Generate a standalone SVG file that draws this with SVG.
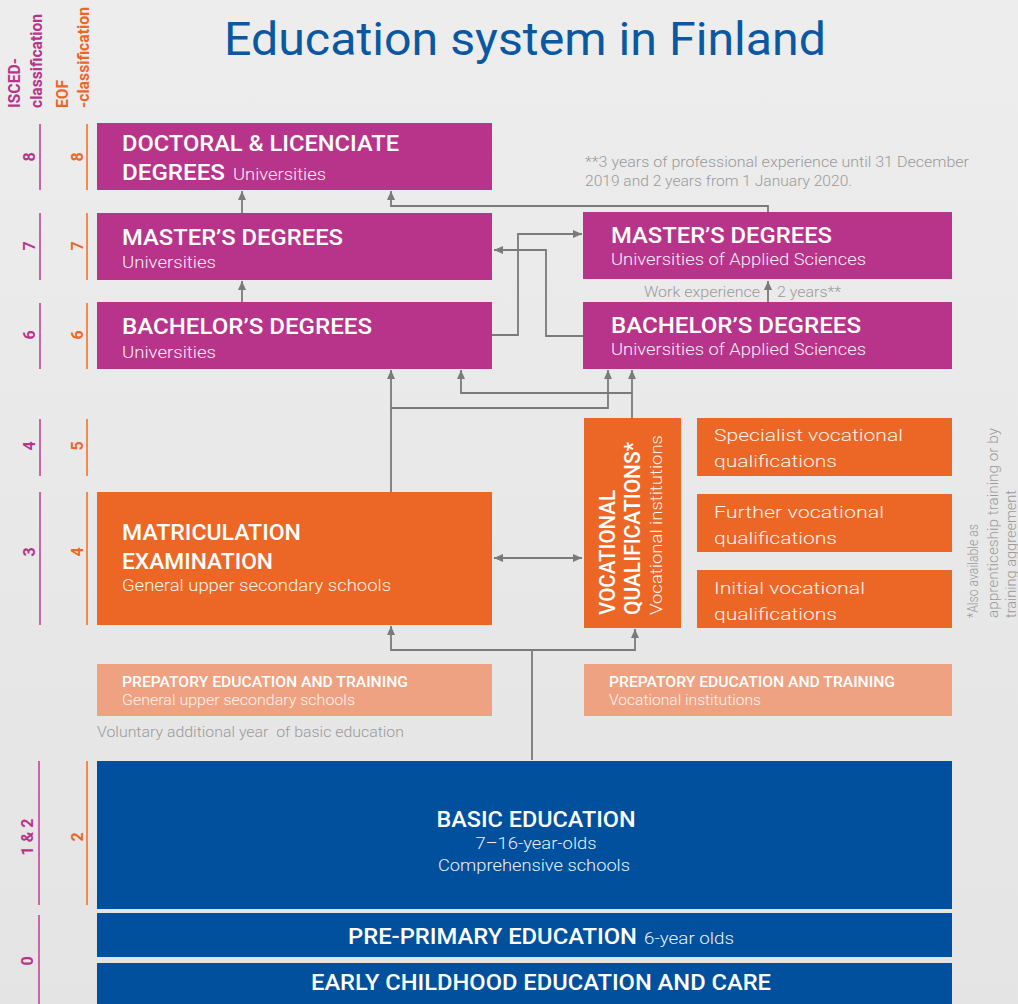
<svg xmlns="http://www.w3.org/2000/svg" width="1018" height="1004" viewBox="0 0 1018 1004">
<defs>
<linearGradient id="bg" x1="0" y1="0" x2="0" y2="1">
<stop offset="0" stop-color="#ededed"/>
<stop offset="1" stop-color="#e4e4e4"/>
</linearGradient>
<marker id="ah" markerUnits="userSpaceOnUse" markerWidth="10" markerHeight="10" refX="9" refY="4.5" orient="auto">
<path d="M0,0.5 L9,4.5 L0,8.5 Z" fill="#7a7a7a"/>
</marker>
<marker id="ahs" markerUnits="userSpaceOnUse" markerWidth="10" markerHeight="10" refX="0" refY="4.5" orient="auto">
<path d="M9,0.5 L0,4.5 L9,8.5 Z" fill="#7a7a7a"/>
</marker>
</defs>
<style>
text{font-family:Roboto,"Liberation Sans",sans-serif;}
.mag{fill:#b8348a;}
.ora{fill:#ec6726;}
.sal{fill:#eea282;}
.blu{fill:#00509d;}
.h{fill:#fff;font-weight:500;font-size:22px;}
.s{fill:#fff;font-weight:300;font-size:17px;opacity:0.92;}
.ps{fill:#fff;font-weight:500;font-size:14.5px;}
.pl{fill:#fff;font-weight:300;font-size:14.5px;opacity:0.9;}
.note{fill:#9a9a9a;font-weight:300;font-size:15px;}
.iscl{stroke:#c966aa;stroke-width:2;}
.eqfl{stroke:#f08b50;stroke-width:2;}
.iscn{fill:#b8348a;font-weight:700;font-size:16px;}
.eqfn{fill:#ec6726;font-weight:700;font-size:16px;}
.conn path{fill:none;stroke:#7a7a7a;stroke-width:1.8;}
</style>
<rect x="0" y="0" width="1018" height="1004" fill="url(#bg)"/>

<text x="525" y="55" text-anchor="middle" font-size="46" font-weight="400" fill="#0a57a2" textLength="602" lengthAdjust="spacingAndGlyphs">Education system in Finland</text>

<g id="scale-headers">
<text transform="translate(20,108) rotate(-90)" class="iscn" font-size="13.5" textLength="50" lengthAdjust="spacingAndGlyphs">ISCED-</text>
<text transform="translate(42,108) rotate(-90)" class="iscn" font-size="13.5" textLength="94" lengthAdjust="spacingAndGlyphs">classification</text>
<text transform="translate(68,108) rotate(-90)" class="eqfn" font-size="13.5" textLength="28" lengthAdjust="spacingAndGlyphs">EOF</text>
<text transform="translate(89,108) rotate(-90)" class="eqfn" font-size="13.5" textLength="101" lengthAdjust="spacingAndGlyphs">-classification</text>
</g>

<g id="levels">
<line class="iscl" x1="40" y1="124" x2="40" y2="190"/><line class="eqfl" x1="87" y1="124" x2="87" y2="190"/>
<text transform="translate(35,157) rotate(-90)" class="iscn" text-anchor="middle">8</text>
<text transform="translate(83,157) rotate(-90)" class="eqfn" text-anchor="middle">8</text>
<line class="iscl" x1="40" y1="213" x2="40" y2="280"/><line class="eqfl" x1="87" y1="213" x2="87" y2="280"/>
<text transform="translate(35,246) rotate(-90)" class="iscn" text-anchor="middle">7</text>
<text transform="translate(83,246) rotate(-90)" class="eqfn" text-anchor="middle">7</text>
<line class="iscl" x1="40" y1="303" x2="40" y2="369"/><line class="eqfl" x1="87" y1="303" x2="87" y2="369"/>
<text transform="translate(35,335) rotate(-90)" class="iscn" text-anchor="middle">6</text>
<text transform="translate(83,335) rotate(-90)" class="eqfn" text-anchor="middle">6</text>
<line class="iscl" x1="40" y1="419" x2="40" y2="476"/><line class="eqfl" x1="87" y1="419" x2="87" y2="476"/>
<text transform="translate(35,446) rotate(-90)" class="iscn" text-anchor="middle">4</text>
<text transform="translate(83,446) rotate(-90)" class="eqfn" text-anchor="middle">5</text>
<line class="iscl" x1="40" y1="492" x2="40" y2="625"/><line class="eqfl" x1="87" y1="492" x2="87" y2="625"/>
<text transform="translate(35,552) rotate(-90)" class="iscn" text-anchor="middle">3</text>
<text transform="translate(83,552) rotate(-90)" class="eqfn" text-anchor="middle">4</text>
<line class="iscl" x1="39" y1="761" x2="39" y2="905"/><line class="eqfl" x1="87" y1="761" x2="87" y2="905"/>
<text transform="translate(33,837) rotate(-90)" class="iscn" text-anchor="middle">1 &amp; 2</text>
<text transform="translate(83,837) rotate(-90)" class="eqfn" text-anchor="middle">2</text>
<line class="iscl" x1="39" y1="915" x2="39" y2="1004"/>
<text transform="translate(33,961) rotate(-90)" class="iscn" text-anchor="middle">0</text>
</g>

<g id="conn" class="conn">
<path d="M242,213 V191" marker-end="url(#ah)"/>
<path d="M242,302 V281" marker-end="url(#ah)"/>
<path d="M768,212 V206 H391 V191" marker-end="url(#ah)"/>
<path d="M768,302 V281" marker-end="url(#ah)"/>
<path d="M492,335 H518 V234 H582" marker-end="url(#ah)"/>
<path d="M583,336 H546 V250 H494" marker-end="url(#ah)"/>
<path d="M391,492 V370" marker-end="url(#ah)"/>
<path d="M391,408 H608 V370" marker-end="url(#ah)"/>
<path d="M632,418 V370" marker-end="url(#ah)"/>
<path d="M632,393 H461 V370" marker-end="url(#ah)"/>
<path d="M494,558 H582" marker-start="url(#ahs)" marker-end="url(#ah)"/>
<path d="M532,760 V650 H391 V626" marker-end="url(#ah)"/>
<path d="M532,650 H635 V629" marker-end="url(#ah)"/>
</g>

<text class="note" x="585" y="167" textLength="384" lengthAdjust="spacingAndGlyphs">**3 years of professional experience until 31 December</text>
<text class="note" x="585" y="186" textLength="267" lengthAdjust="spacingAndGlyphs">2019 and 2 years from 1 January 2020.</text>
<text class="note" x="760" y="297" text-anchor="end" textLength="116" lengthAdjust="spacingAndGlyphs">Work experience</text>
<text class="note" x="777" y="297" textLength="64" lengthAdjust="spacingAndGlyphs">2 years**</text>

<g id="doctoral">
<rect class="mag" x="97" y="123" width="395" height="67"/>
<text class="h" x="122" y="151" textLength="277" lengthAdjust="spacingAndGlyphs">DOCTORAL &amp; LICENCIATE</text>
<text class="h" x="122" y="180" textLength="103" lengthAdjust="spacingAndGlyphs">DEGREES</text>
<text class="s" x="233" y="180" textLength="93" lengthAdjust="spacingAndGlyphs">Universities</text>
</g>
<g id="master-univ">
<rect class="mag" x="97" y="213" width="395" height="67"/>
<text class="h" x="122" y="245" textLength="221" lengthAdjust="spacingAndGlyphs">MASTER’S DEGREES</text>
<text class="s" x="122" y="268" textLength="94" lengthAdjust="spacingAndGlyphs">Universities</text>
</g>
<g id="bachelor-univ">
<rect class="mag" x="97" y="302" width="395" height="67"/>
<text class="h" x="122" y="334" textLength="250" lengthAdjust="spacingAndGlyphs">BACHELOR’S DEGREES</text>
<text class="s" x="122" y="358" textLength="94" lengthAdjust="spacingAndGlyphs">Universities</text>
</g>
<g id="master-uas">
<rect class="mag" x="583" y="212" width="369" height="67"/>
<text class="h" x="611" y="243" textLength="221" lengthAdjust="spacingAndGlyphs">MASTER’S DEGREES</text>
<text class="s" x="611" y="265" textLength="255" lengthAdjust="spacingAndGlyphs">Universities of Applied Sciences</text>
</g>
<g id="bachelor-uas">
<rect class="mag" x="583" y="302" width="369" height="67"/>
<text class="h" x="611" y="333" textLength="250" lengthAdjust="spacingAndGlyphs">BACHELOR’S DEGREES</text>
<text class="s" x="611" y="355" textLength="255" lengthAdjust="spacingAndGlyphs">Universities of Applied Sciences</text>
</g>

<g id="matriculation">
<rect class="ora" x="97" y="492" width="395" height="133"/>
<text class="h" x="122" y="540" textLength="179" lengthAdjust="spacingAndGlyphs">MATRICULATION</text>
<text class="h" x="122" y="569" textLength="151" lengthAdjust="spacingAndGlyphs">EXAMINATION</text>
<text class="s" x="122" y="591" textLength="269" lengthAdjust="spacingAndGlyphs">General upper secondary schools</text>
</g>
<g id="vocational">
<rect class="ora" x="584" y="418" width="97" height="210"/>
<text class="h" transform="translate(615,615) rotate(-90)" textLength="125" lengthAdjust="spacingAndGlyphs">VOCATIONAL</text>
<text class="h" transform="translate(640,615) rotate(-90)" textLength="173" lengthAdjust="spacingAndGlyphs">QUALIFICATIONS*</text>
<text class="s" transform="translate(662,615) rotate(-90)" textLength="180" lengthAdjust="spacingAndGlyphs">Vocational institutions</text>
</g>
<g id="specialist">
<rect class="ora" x="697" y="418" width="255" height="58"/>
<text class="s" font-size="20" x="714" y="441" textLength="189" lengthAdjust="spacingAndGlyphs">Specialist vocational</text>
<text class="s" font-size="20" x="714" y="467" textLength="123" lengthAdjust="spacingAndGlyphs">qualifications</text>
</g>
<g id="further">
<rect class="ora" x="697" y="494" width="255" height="58"/>
<text class="s" font-size="20" x="714" y="518" textLength="170" lengthAdjust="spacingAndGlyphs">Further vocational</text>
<text class="s" font-size="20" x="714" y="544" textLength="123" lengthAdjust="spacingAndGlyphs">qualifications</text>
</g>
<g id="initial">
<rect class="ora" x="697" y="570" width="255" height="58"/>
<text class="s" font-size="20" x="714" y="594" textLength="151" lengthAdjust="spacingAndGlyphs">Initial vocational</text>
<text class="s" font-size="20" x="714" y="620" textLength="123" lengthAdjust="spacingAndGlyphs">qualifications</text>
</g>

<text class="note" transform="translate(978,618) rotate(-90)" textLength="94" lengthAdjust="spacingAndGlyphs">*Also available as</text>
<text class="note" transform="translate(998,618) rotate(-90)" textLength="190" lengthAdjust="spacingAndGlyphs">apprenticeship training or by</text>
<text class="note" transform="translate(1016,618) rotate(-90)" textLength="128" lengthAdjust="spacingAndGlyphs">training aggreement</text>

<g id="prep-general">
<rect class="sal" x="97" y="664" width="395" height="52"/>
<text class="ps" x="122" y="687" textLength="286" lengthAdjust="spacingAndGlyphs">PREPATORY EDUCATION AND TRAINING</text>
<text class="pl" x="122" y="705" textLength="233" lengthAdjust="spacingAndGlyphs">General upper secondary schools</text>
</g>
<g id="prep-vocational">
<rect class="sal" x="584" y="664" width="368" height="52"/>
<text class="ps" x="609" y="687" textLength="286" lengthAdjust="spacingAndGlyphs">PREPATORY EDUCATION AND TRAINING</text>
<text class="pl" x="609" y="705" textLength="152" lengthAdjust="spacingAndGlyphs">Vocational institutions</text>
</g>
<text class="note" x="97" y="737" textLength="307" lengthAdjust="spacingAndGlyphs" xml:space="preserve">Voluntary additional year  of basic education</text>

<g id="basic">
<rect class="blu" x="97" y="761" width="855" height="148"/>
<text class="h" x="536" y="827" text-anchor="middle" font-size="23" textLength="199" lengthAdjust="spacingAndGlyphs">BASIC EDUCATION</text>
<text class="s" x="536" y="849" text-anchor="middle" textLength="121" lengthAdjust="spacingAndGlyphs">7–16-year-olds</text>
<text class="s" x="534" y="871" text-anchor="middle" textLength="192" lengthAdjust="spacingAndGlyphs">Comprehensive schools</text>
</g>
<g id="preprimary">
<rect class="blu" x="97" y="913" width="855" height="44"/>
<text class="h" x="348" y="944" textLength="289" lengthAdjust="spacingAndGlyphs">PRE-PRIMARY EDUCATION</text>
<text class="s" x="644" y="944" textLength="90" lengthAdjust="spacingAndGlyphs">6-year olds</text>
</g>
<g id="early">
<rect class="blu" x="97" y="963" width="855" height="41"/>
<text class="h" x="311" y="990" textLength="460" lengthAdjust="spacingAndGlyphs">EARLY CHILDHOOD EDUCATION AND CARE</text>
</g>
</svg>
